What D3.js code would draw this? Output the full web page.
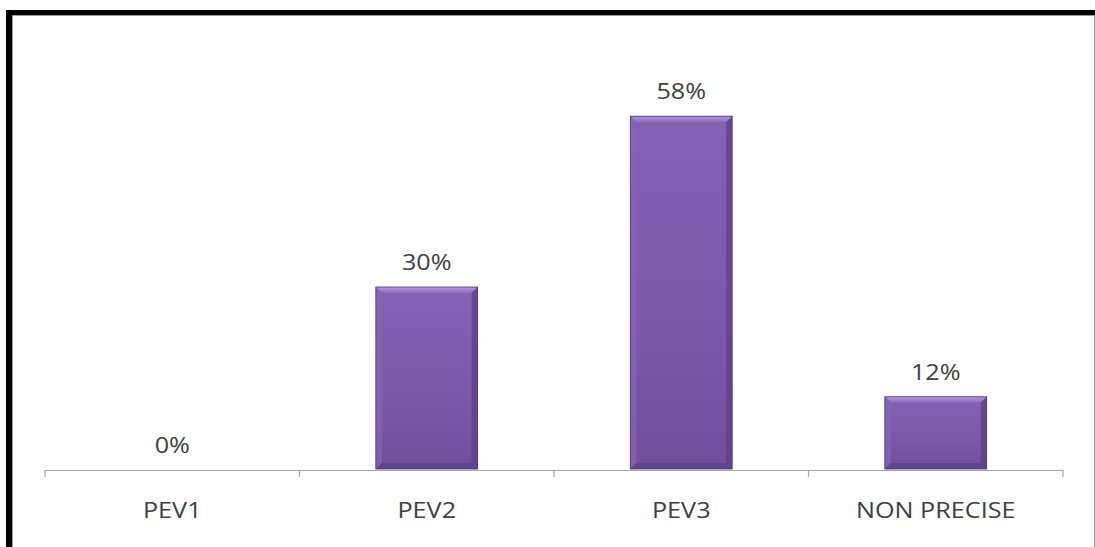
<!DOCTYPE html>
<html><head><meta charset="utf-8">
<script src="https://cdn.jsdelivr.net/npm/d3@7"></script>
<style>html,body{margin:0;padding:0;background:#fff;}svg{display:block;}</style>
</head><body>
<script>
const categories = ["PEV1", "PEV2", "PEV3", "NON PRECISE"];
const values = [0, 30, 58, 12];
const valueLabels = ["0%", "30%", "58%", "12%"];

const W = 1095, H = 547;
const svg = d3.select("body").append("svg").attr("width", W).attr("height", H);

// frame
svg.append("rect").attr("x", 6).attr("y", 10).attr("width", W - 6).attr("height", H - 10).attr("fill", "#000");
svg.append("rect").attr("x", 12).attr("y", 15).attr("width", W - 12).attr("height", H - 15).attr("fill", "#9a9a9a");
svg.append("rect").attr("x", 13).attr("y", 16).attr("width", W - 14).attr("height", H - 16).attr("fill", "#fdfdfd");

const x = d3.scaleBand().domain(categories).range([45, 1063]).paddingInner(0).paddingOuter(0);
const y = d3.scaleLinear().domain([0, 70]).range([470, 43]);
const bw = x.bandwidth() * 0.4;

const defs = svg.append("defs");
const g1 = defs.append("linearGradient").attr("id", "barv").attr("x1", 0).attr("y1", 0).attr("x2", 0).attr("y2", 1);
g1.append("stop").attr("offset", "0%").attr("stop-color", "#8462b4");
g1.append("stop").attr("offset", "60%").attr("stop-color", "#7b59a9");
g1.append("stop").attr("offset", "100%").attr("stop-color", "#704f9c");
const gt = defs.append("linearGradient").attr("id", "bevtop").attr("x1", 0).attr("y1", 0).attr("x2", 0).attr("y2", 1);
gt.append("stop").attr("offset", "0%").attr("stop-color", "#b49ae0");
gt.append("stop").attr("offset", "100%").attr("stop-color", "#8b6bbb");

// axis
const axis = svg.append("g").attr("transform", `translate(0,${y(0)})`);
axis.append("line").attr("x1", 45).attr("x2", 1063).attr("y1", 0.5).attr("y2", 0.5).attr("stroke", "#a6a6a6").attr("stroke-width", 1.2);
const ticks = categories.map(c => x(c)).concat([x.range()[1]]);
axis.selectAll("line.t").data(ticks).join("line").attr("class", "t")
  .attr("x1", d => d).attr("x2", d => d).attr("y1", 0).attr("y2", 7)
  .attr("stroke", "#a6a6a6").attr("stroke-width", 1.2);

// bars
const bars = svg.append("g");
categories.forEach((c, i) => {
  const v = values[i];
  if (v <= 0) return;
  const x0 = x(c) + (x.bandwidth() - bw) / 2, x1 = x0 + bw;
  const y0 = y(v), y1 = y(0) - 1;
  const b = 6;
  const gg = bars.append("g");
  gg.append("rect").attr("x", x0).attr("y", y0).attr("width", bw).attr("height", y1 - y0).attr("fill", "url(#barv)");
  gg.append("polygon").attr("points", `${x0},${y0} ${x1},${y0} ${x1-b},${y0+b} ${x0+b},${y0+b}`).attr("fill", "url(#bevtop)");
  gg.append("polygon").attr("points", `${x0},${y0} ${x0+b},${y0+b} ${x0+b},${y1-b} ${x0},${y1}`).attr("fill", "#8567b3").attr("opacity", 0.7);
  gg.append("polygon").attr("points", `${x1},${y0} ${x1},${y1} ${x1-b},${y1-b} ${x1-b},${y0+b}`).attr("fill", "#5d4189").attr("opacity", 0.8);
  gg.append("polygon").attr("points", `${x0},${y1} ${x1},${y1} ${x1-b},${y1-b} ${x0+b},${y1-b}`).attr("fill", "#5e428c").attr("opacity", 0.85);
  gg.append("rect").attr("x", x0).attr("y", y0).attr("width", bw).attr("height", y1 - y0).attr("fill", "none").attr("stroke", "#4a3070").attr("stroke-width", 0.8);
});

function stretched(sel, cx, cy) {
  sel.attr("transform", `translate(${cx},${cy}) scale(1.2,1)`);
}

// value labels
svg.append("g").selectAll("text").data(categories).join("text")
  .attr("transform", (c, i) => `translate(${x(c) + x.bandwidth() / 2},${y(values[i]) - 17}) scale(1.2,1)`)
  .attr("text-anchor", "middle")
  .attr("font-family", "Open Sans, sans-serif").attr("font-size", 21)
  .attr("fill", "#404040")
  .text((c, i) => valueLabels[i]);

// category labels
svg.append("g").selectAll("text").data(categories).join("text")
  .attr("transform", c => `translate(${x(c) + x.bandwidth() / 2},518) scale(1.2,1)`)
  .attr("text-anchor", "middle")
  .attr("font-family", "Open Sans, sans-serif").attr("font-size", 21)
  .attr("fill", "#404040")
  .text(c => c);
</script>
</body></html>
